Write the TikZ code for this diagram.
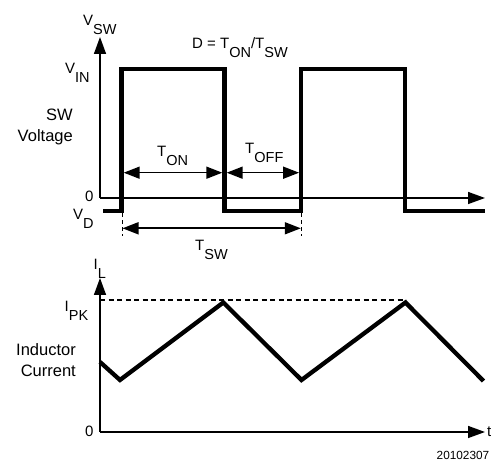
\documentclass[tikz,border=0pt]{standalone}
\usepackage{fontspec}
\setmainfont{Liberation Sans}
\usetikzlibrary{arrows.meta}
\newcommand{\subtx}[1]{\raisebox{-0.55em}{\fontsize{14.5}{14.5}\selectfont #1}}
\begin{document}
\begin{tikzpicture}[x=1pt,y=-1pt,
  axis/.style={line width=1.5pt,-{Triangle[length=17pt,width=12pt]}},
  wave/.style={line width=4.3pt,line join=miter},
  tri/.style={line width=4.3pt,line join=miter},
  dimboth/.style={line width=1.6pt,{Triangle[length=16pt,width=12pt]}-{Triangle[length=16pt,width=12pt]}},
  guide/.style={line width=1pt,dash pattern=on 4pt off 3pt},
  pk/.style={line width=1.3pt,dash pattern=on 5pt off 3.5pt},
  lbl/.style={font=\fontsize{15}{18}\selectfont,inner sep=0pt,anchor=base west},
  side/.style={font=\fontsize{16.5}{21}\selectfont,inner sep=0pt,align=right,anchor=base east},
  tiny/.style={font=\fontsize{11.8}{14}\selectfont,inner sep=0pt,anchor=base west}]
\useasboundingbox (0,0) rectangle (491,465);

% ---------- top plot ----------
\coordinate (o1) at (100,198);
\coordinate (ytop) at (100,37);
\coordinate (xtop) at (485,198);
\draw[axis] (o1) -- (ytop);
\draw[axis] (o1) -- (xtop);

\coordinate (w0) at (103,211);
\coordinate (w1) at (121.5,211);
\coordinate (w2) at (121.5,69);
\coordinate (w3) at (224.5,69);
\coordinate (w4) at (224.5,211);
\coordinate (w5) at (301.3,211);
\coordinate (w6) at (301.3,69);
\coordinate (w7) at (405,69);
\coordinate (w8) at (405,211);
\coordinate (w9) at (485,211);
\draw[wave] (w0) -- (w1) -- (w2) -- (w3) -- (w4) -- (w5) -- (w6) -- (w7) -- (w8) -- (w9);

% dimension arrows
\coordinate (ton1) at (123.7,172.7);
\coordinate (ton2) at (222.3,172.7);
\coordinate (toff1) at (226.7,172.7);
\coordinate (toff2) at (299.1,172.7);
\draw[dimboth] (ton1) -- (ton2);
\draw[dimboth] (toff1) -- (toff2);

\coordinate (g1a) at (122,213.5);
\coordinate (g1b) at (122,236);
\coordinate (g2a) at (301.3,213.5);
\coordinate (g2b) at (301.3,236);
\draw[guide] (g1a) -- (g1b);
\draw[guide] (g2a) -- (g2b);
\coordinate (tsw1) at (122.5,228.3);
\coordinate (tsw2) at (300.8,228.3);
\draw[dimboth] (tsw1) -- (tsw2);

% labels top
\node[lbl] (vsw) at (83,26) {V\subtx{SW}};
\node[lbl] (duty) at (192,49) {D = T\subtx{ON}/T\subtx{SW}};
\node[lbl] (vin) at (65,74) {V\subtx{IN}};
\node[side] (swv) at (73,142) {SW\\Voltage};
\node[lbl] (ton) at (157,157) {T\subtx{ON}};
\node[lbl] (toff) at (245,154) {T\subtx{OFF}};
\node[lbl] (tsw) at (195,251) {T\subtx{SW}};
\node[lbl] (zero1) at (85,202) {0};
\node[lbl] (vd) at (73,220) {V\subtx{D}};

% ---------- bottom plot ----------
\coordinate (o2) at (100,432);
\coordinate (ybot) at (100,278);
\coordinate (xbot) at (485,432);
\draw[axis] (o2) -- (ybot);
\draw[axis] (o2) -- (xbot);

\coordinate (pkl) at (100,300);
\coordinate (pkr) at (406,300);
\draw[pk] (pkl) -- (pkr);

\coordinate (i0) at (100,362);
\coordinate (i1) at (120,380);
\coordinate (i2) at (223.3,302.5);
\coordinate (i3) at (301.5,380);
\coordinate (i4) at (405.5,302.5);
\coordinate (i5) at (483.5,381);
\draw[tri] (i0) -- (i1) -- (i2) -- (i3) -- (i4) -- (i5);

\node[lbl] (il) at (93.5,270) {I\subtx{L}};
\node[lbl] (ipk) at (64.5,312) {I\subtx{PK}};
\node[side] (ind) at (76,377) {Inductor\\Current};
\node[lbl] (zero2) at (85,437) {0};
\node[lbl] (tt) at (487,437) {t};
\node[tiny] (code) at (436.5,459.5) {20102307};
\end{tikzpicture}
\end{document}
